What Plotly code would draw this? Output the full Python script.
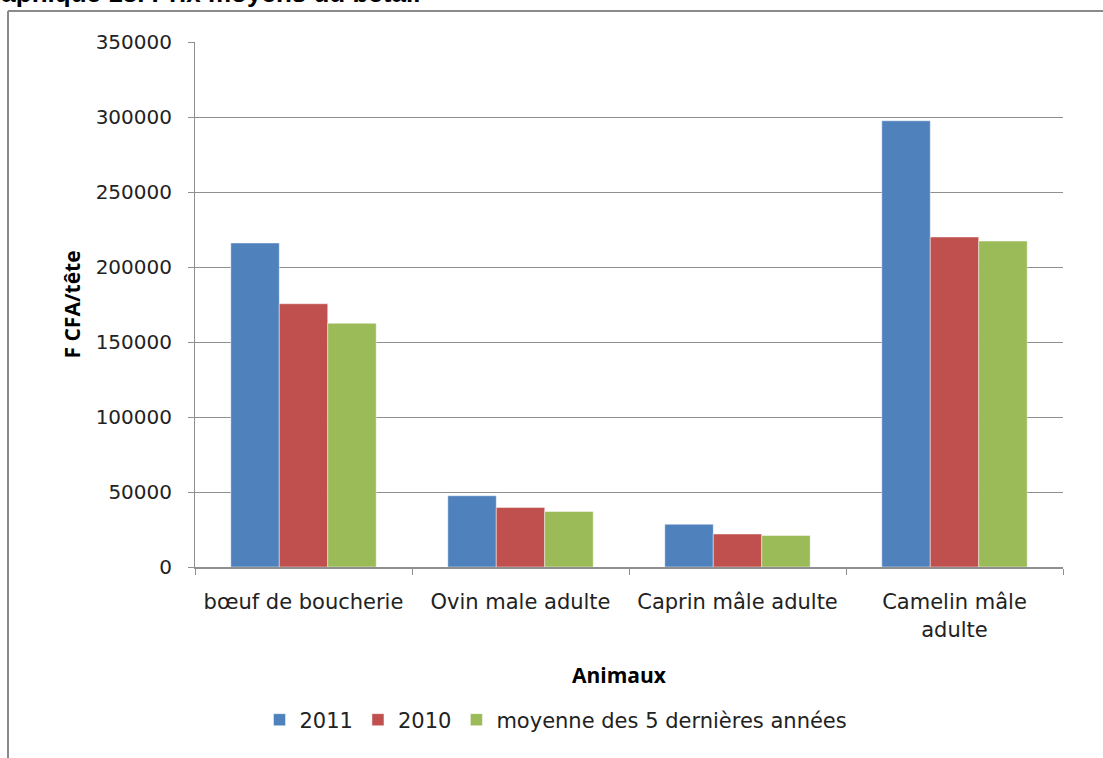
import plotly.graph_objects as go

categories = ["bœuf de boucherie", "Ovin male adulte", "Caprin mâle adulte", "Camelin mâle<br>adulte"]
series_names = ["2011", "2010", "moyenne des 5 dernières années"]
values_2011 = [216000, 47500, 28500, 297500]
values_2010 = [175500, 39700, 22000, 220000]
values_avg = [162500, 37000, 21000, 217300]
colors = ["#4F81BD", "#C0504D", "#9BBB59"]
y_ticks = [0, 50000, 100000, 150000, 200000, 250000, 300000, 350000]

W, H = 1103, 758
L, R, T, B = 195, 1063, 42, 567

def px(x):
    return (x - L) / (R - L)

def py(y):
    return (B - y) / (B - T)

fig = go.Figure()
for name, vals, col in zip(series_names, [values_2011, values_2010, values_avg], colors):
    fig.add_trace(go.Bar(
        x=categories, y=vals, name=name,
        marker=dict(color=col, line=dict(color="rgba(255,255,255,0.45)", width=1)),
    ))

fig.update_layout(
    width=W, height=H,
    margin=dict(l=L, r=W - R, t=T, b=H - B, pad=0),
    paper_bgcolor="white", plot_bgcolor="white",
    barmode="group", bargap=0.33, bargroupgap=0,
    font=dict(family="DejaVu Sans", color="#222222", size=21),
    showlegend=True,
    legend=dict(orientation="h", x=px(556), y=py(720), xanchor="center", yanchor="middle",
                font=dict(family="DejaVu Sans", size=21, color="#222222"),
                itemwidth=30, tracegroupgap=0),
)

fig.update_yaxes(
    range=[0, 350000], tickvals=y_ticks, ticktext=[str(v) for v in y_ticks],
    showgrid=True, gridcolor="#8F8F8F", gridwidth=1,
    showline=True, linecolor="#8F8F8F", linewidth=1,
    ticks="outside", ticklen=6, tickcolor="#8F8F8F",
    tickfont=dict(family="DejaVu Sans", size=20, color="#222222"),
    ticklabelstandoff=12, zeroline=False,
)
fig.update_xaxes(
    showline=True, linecolor="#8F8F8F", linewidth=2,
    ticks="outside", ticklen=6, tickcolor="#8F8F8F", tickson="boundaries",
    tickfont=dict(family="DejaVu Sans", size=21, color="#222222"),
    ticklabelstandoff=15,
)

# axis titles
fig.add_annotation(text="<b>F CFA/tête</b>", x=px(71), y=0.5, xref="paper", yref="paper",
                   textangle=-90, showarrow=False, font=dict(family="Open Sans", size=21, color="black"),
                   xanchor="center", yanchor="middle")
fig.add_annotation(text="<b>Animaux</b>", x=px(619), y=py(675), xref="paper", yref="paper",
                   showarrow=False, font=dict(family="Open Sans", size=21, color="black"),
                   xanchor="center", yanchor="middle")
# clipped figure title at top
fig.add_annotation(text="<b>Graphique 13. Prix moyens du bétail</b>", x=px(422), y=py(10),
                   xref="paper", yref="paper", showarrow=False,
                   font=dict(family="Liberation Sans", size=26, color="black"),
                   xanchor="right", yanchor="bottom")

# outer chart border (partially visible)
fig.add_shape(type="line", xref="paper", yref="paper", x0=px(8), x1=px(1120), y0=py(11), y1=py(11),
              line=dict(color="#8A8A8A", width=2))
fig.add_shape(type="line", xref="paper", yref="paper", x0=px(8), x1=px(8), y0=py(11), y1=py(780),
              line=dict(color="#8A8A8A", width=2))

fig.write_html("out.html")
